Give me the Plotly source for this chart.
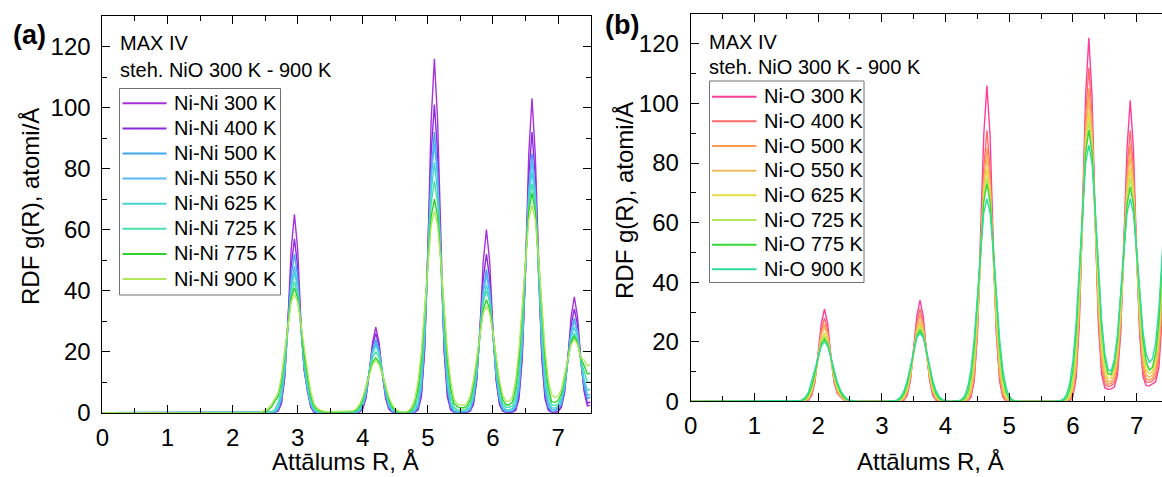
import plotly.graph_objects as go

# ---------------- data: panel (a) Ni-Ni ----------------
R_A = [0.0,
       2.40, 2.45, 2.50, 2.55, 2.60, 2.65, 2.70, 2.75, 2.80, 2.85, 2.90, 2.95, 3.00, 3.05, 3.10, 3.15,
       3.20, 3.25, 3.30, 3.35, 3.40, 3.45,
       3.75, 3.80, 3.85, 3.90, 3.95, 4.00, 4.05, 4.10, 4.15, 4.20, 4.25, 4.30, 4.35, 4.40, 4.45, 4.50,
       4.55, 4.60, 4.65, 4.70, 4.75, 4.80, 4.85, 4.90, 4.95, 5.00, 5.05, 5.10, 5.15, 5.20, 5.25, 5.30,
       5.35, 5.40, 5.45, 5.50, 5.55, 5.60, 5.65, 5.70, 5.75, 5.80, 5.85, 5.90, 5.95, 6.00, 6.05, 6.10,
       6.15, 6.20, 6.25, 6.30, 6.35, 6.40, 6.45, 6.50, 6.55, 6.60, 6.65, 6.70, 6.75, 6.80, 6.85, 6.90,
       6.95, 7.00, 7.05, 7.10, 7.15, 7.20, 7.25, 7.30, 7.35, 7.40, 7.45, 7.50]

nini_300 = [0,
    0, 0, 0, 0, 0, 0.1, 0.5, 2.9, 11.2, 29.8, 53.5, 65, 53.5, 29.8, 14.0, 8.0, 2.0, 0.1, 0, 0, 0, 0,
    0, 0, 0, 0, 0.2, 1.2, 4.8, 12.8, 23.0, 28, 23.0, 12.8, 4.8, 1.2, 0.2, 0, 0, 0, 0, 0, 0,
    0.1, 0.9, 5.1, 20.0, 53.1, 95.5, 116, 95.5, 53.1, 20.0, 5.1, 0.9, 0.1, 0, 0, 0,
    0.05, 0.5, 2.6, 10.3, 27.5, 49.4, 60, 49.4, 27.5, 10.3, 2.6, 0.5, 0.1, 0,
    0.1, 0.8, 4.5, 17.7, 47.2, 84.8, 103, 84.8, 47.2, 17.7, 4.5, 0.8, 0.1, 0,
    0.3, 1.7, 6.5, 17.4, 31.3, 38, 31.3, 17.4, 7.0, 2.2, 2.5]
nini_400 = [0,
    0, 0, 0, 0, 0, 0.1, 0.8, 3.6, 12.0, 28.5, 47.9, 57, 47.9, 28.5, 14.0, 7.0, 2.0, 0.1, 0, 0, 0, 0,
    0, 0, 0, 0.1, 0.3, 1.6, 5.5, 13.0, 21.9, 26, 21.9, 13.0, 5.5, 1.6, 0.3, 0.1, 0, 0, 0, 0, 0,
    0.2, 1.3, 6.4, 21.3, 50.5, 84.9, 101, 84.9, 50.5, 21.3, 6.4, 1.3, 0.2, 0, 0, 0,
    0.1, 0.7, 3.3, 11.0, 26.0, 43.7, 52, 43.7, 26.0, 11.0, 3.3, 0.7, 0.1, 0,
    0.2, 1.2, 5.8, 19.4, 46.0, 77.4, 92, 77.4, 46.0, 19.4, 5.8, 1.2, 0.2,
    0.1, 0.5, 2.1, 7.2, 17.0, 28.6, 34, 28.6, 17.0, 8.0, 3.1, 3.5]
nini_500 = [0,
    0, 0, 0, 0, 0, 0.2, 1.1, 4.4, 12.9, 28.0, 44.6, 52, 44.6, 28.0, 14.5, 7.5, 2.5, 0.5, 0, 0, 0, 0,
    0, 0, 0, 0.1, 0.5, 2.0, 6.0, 12.9, 20.6, 24, 20.6, 12.9, 6.0, 2.0, 0.5, 0.1, 0, 0, 0, 0, 0,
    0.4, 1.9, 7.8, 22.9, 49.6, 78.8, 92, 78.8, 49.6, 22.9, 7.8, 1.9, 0.4, 0.1, 0.2, 0.2,
    0.3, 1.0, 4.0, 11.7, 25.3, 40.3, 47, 40.3, 25.3, 11.7, 4.0, 1.0, 0.3, 0.4,
    0.5, 1.8, 7.2, 21.2, 45.8, 72.8, 85, 72.8, 45.8, 21.2, 7.2, 1.8, 0.5,
    0.6, 1.2, 2.6, 7.7, 16.7, 26.6, 31, 26.6, 16.7, 8.9, 4.6, 5.2]
nini_550 = [0,
    0, 0, 0, 0, 0.1, 0.3, 1.5, 5.2, 13.8, 27.6, 41.8, 48, 41.8, 27.6, 15.0, 8.0, 3.0, 0.7, 0.1, 0, 0, 0,
    0, 0, 0, 0.2, 0.7, 2.5, 6.6, 13.2, 20.0, 23, 20.0, 13.2, 6.6, 2.5, 0.7, 0.2, 0, 0, 0, 0, 0.1,
    0.6, 2.7, 9.6, 25.3, 50.6, 76.6, 88, 76.6, 50.6, 25.3, 9.6, 2.7, 0.6, 0.2, 0.3, 0.4,
    0.5, 1.4, 4.9, 12.9, 25.9, 39.2, 45, 39.2, 25.9, 12.9, 4.9, 1.5, 0.6, 0.6,
    0.9, 2.6, 9.0, 23.8, 47.7, 72.3, 83, 72.3, 47.7, 23.8, 9.0, 2.8, 1.0,
    1.0, 1.6, 3.6, 8.6, 17.3, 26.1, 30, 26.1, 17.3, 10.1, 5.8, 5.9]
nini_625 = [0,
    0, 0, 0, 0, 0.1, 0.5, 2.0, 6.2, 15.0, 27.9, 40.6, 46, 40.6, 27.9, 16.0, 9.0, 3.5, 1.0, 0.2, 0, 0, 0,
    0, 0, 0.05, 0.2, 1.0, 3.0, 7.2, 13.4, 19.4, 22, 19.4, 13.4, 7.2, 3.0, 1.0, 0.2, 0.05, 0, 0, 0, 0.2,
    0.9, 3.6, 11.1, 26.7, 49.8, 72.3, 82, 72.3, 49.8, 26.7, 11.1, 3.6, 1.0, 0.5, 0.6, 0.7,
    0.9, 1.9, 5.7, 13.7, 25.5, 37.0, 42, 37.0, 25.5, 13.7, 5.7, 2.0, 1.0, 1.0,
    1.4, 3.6, 10.7, 25.7, 48.0, 69.7, 79, 69.7, 48.0, 25.7, 10.7, 3.7, 1.6,
    1.5, 2.2, 4.3, 9.1, 17.0, 24.7, 28, 24.7, 17.0, 11.1, 7.3, 7.7]
nini_725 = [0,
    0, 0, 0.1, 0.1, 0.3, 1.0, 3.3, 8.2, 17.0, 28.4, 38.8, 43, 38.8, 28.4, 17.0, 10.0, 4.5, 1.5, 0.5, 0.2, 0, 0,
    0, 0.03, 0.1, 0.5, 1.5, 3.8, 7.9, 13.2, 18.0, 20, 18.0, 13.2, 7.9, 3.8, 1.5, 0.5, 0.13, 0.05, 0, 0.1, 0.5,
    1.8, 5.7, 14.5, 30.0, 50.2, 68.6, 76, 68.6, 50.2, 30.0, 14.5, 5.7, 1.8, 1.0, 0.8, 0.8,
    1.4, 3.0, 7.6, 15.8, 26.4, 36.1, 40, 36.1, 26.4, 15.8, 7.6, 3.0, 1.8, 1.8,
    2.2, 5.7, 14.3, 29.6, 49.6, 67.7, 75, 67.7, 49.6, 29.6, 14.3, 5.7, 2.6,
    2.4, 2.8, 5.0, 10.3, 17.2, 23.5, 26, 23.5, 17.2, 13.3, 10.0, 10.0]
nini_775 = [0,
    0, 0, 0.3, 0.8, 2.0, 4.0, 5.5, 10.2, 18.8, 29.0, 37.6, 41, 37.6, 29.0, 18.8, 12.0, 5.5, 2.2, 1.0, 0.5, 0.3, 0.1,
    0.2, 0.3, 0.5, 0.8, 2.1, 4.5, 8.2, 12.7, 16.5, 18, 16.5, 12.7, 8.2, 4.5, 2.1, 0.8, 0.26, 0.1, 0.1, 0.3, 1.0,
    3.1, 8.0, 17.4, 32.1, 49.5, 64.2, 70, 64.2, 49.5, 32.1, 17.4, 8.0, 3.1, 2.0, 1.6, 1.6,
    2.2, 4.2, 9.2, 16.9, 26.2, 33.9, 37, 33.9, 26.2, 16.9, 9.2, 4.3, 2.6, 2.6,
    3.6, 8.2, 17.9, 33.0, 50.9, 66.0, 72, 66.0, 50.9, 33.0, 17.9, 8.3, 3.6,
    3.4, 4.0, 6.2, 11.5, 17.7, 22.9, 25, 22.9, 17.7, 15.5, 12.7, 12.9]
nini_900 = [0,
    0, 0.3, 0.8, 1.5, 2.8, 4.5, 6.5, 11.9, 20.0, 29.0, 36.2, 39, 36.2, 29.0, 21.0, 14.0, 7.0, 3.0, 1.5, 0.8, 0.5, 0.3,
    0.5, 0.5, 0.6, 1.2, 2.7, 5.2, 8.7, 12.6, 15.8, 17, 15.8, 12.6, 8.7, 5.2, 2.7, 1.2, 0.5, 0.2, 0.2, 0.6, 1.8,
    4.6, 10.4, 20.2, 33.9, 49.1, 61.3, 66, 61.3, 49.1, 33.9, 20.2, 10.4, 4.6, 2.8, 2.5, 2.5,
    3.0, 5.5, 10.7, 18.0, 26.0, 32.5, 35, 32.5, 26.0, 18.0, 10.7, 5.7, 3.8, 3.8,
    5.2, 10.8, 20.8, 35.0, 50.6, 63.2, 68, 63.2, 50.6, 35.0, 20.9, 10.9, 6.0,
    5.0, 5.5, 7.5, 12.3, 17.9, 22.3, 24, 22.3, 17.9, 17.3, 15.3, 15.8]

# ---------------- data: panel (b) Ni-O ----------------
R_B = [0.0,
       1.60, 1.65, 1.70, 1.75, 1.80, 1.85, 1.90, 1.95, 2.00, 2.05, 2.10, 2.15, 2.20, 2.25, 2.30, 2.35,
       2.40, 2.45, 2.50, 2.55, 2.60,
       3.05, 3.10, 3.15, 3.20, 3.25, 3.30, 3.35, 3.40, 3.45, 3.50, 3.55, 3.60, 3.65, 3.70, 3.75, 3.80,
       3.85, 3.90, 3.95, 4.00, 4.05, 4.10, 4.15, 4.20, 4.25, 4.30, 4.35, 4.40, 4.45, 4.50, 4.55, 4.60,
       4.65, 4.70, 4.75, 4.80, 4.85, 4.90, 4.95, 5.00, 5.05, 5.10, 5.15, 5.20,
       5.65, 5.70, 5.75, 5.80, 5.85, 5.90, 5.95, 6.00, 6.05, 6.10, 6.15, 6.20, 6.25, 6.30, 6.35, 6.40,
       6.45, 6.50, 6.55, 6.60, 6.65, 6.70, 6.75, 6.80, 6.85, 6.90, 6.95, 7.00, 7.05, 7.10, 7.15, 7.20,
       7.25, 7.30, 7.35, 7.40, 7.45]

nio_300 = [0,
    0, 0, 0, 0, 0.1, 0.4, 2.0, 6.5, 15.5, 26.1, 31, 26.1, 15.5, 6.5, 2.8, 1.5, 0.6, 0, 0, 0, 0,
    0, 0, 0, 0, 0, 0.1, 0.45, 2.1, 7.2, 17.0, 28.6, 34, 28.6, 17.0, 7.2, 2.1, 0.45, 0.1,
    0, 0, 0, 0, 0, 0, 0, 0,
    0.2, 1.4, 6.7, 22.4, 53.0, 89.1, 106, 89.1, 53.0, 22.4, 6.7, 1.4, 0.2, 0, 0, 0, 0, 0,
    0, 0, 0, 0, 0, 0, 0.2, 1.6, 7.7, 25.7, 61.0, 102.6, 122, 102.6, 61.0, 26.2, 9.2, 4.6, 4.1, 4.2,
    4.8, 8.9, 22.8, 51.0, 84.9, 101, 84.9, 50.5, 21.8, 8.4, 5.3, 5.2, 5.8, 6.6, 11.4, 27.9, 61]
nio_400 = [0,
    0, 0, 0, 0, 0.1, 0.6, 2.4, 7.0, 15.1, 24.0, 28, 24.0, 15.1, 7.0, 3.0, 1.6, 0.7, 0.2, 0, 0, 0,
    0, 0, 0, 0, 0, 0.1, 0.65, 2.6, 7.7, 16.7, 26.6, 31, 26.6, 16.7, 7.7, 2.6, 0.65, 0.1,
    0, 0, 0, 0, 0, 0, 0,
    0.05, 0.35, 1.9, 7.7, 22.7, 49.0, 78.0, 91, 78.0, 49.0, 22.7, 7.7, 1.9, 0.35, 0.05, 0, 0, 0, 0,
    0, 0, 0, 0, 0, 0.1, 0.4, 2.4, 9.5, 27.9, 60.4, 96.0, 112, 96.0, 60.4, 28.5, 11.3, 5.9, 5.0, 5.2,
    6.1, 10.7, 24.5, 49.6, 78.0, 91, 78.0, 49.0, 23.3, 10.1, 6.5, 6.4, 6.9, 8.3, 14.2, 31.0, 61.7]
nio_500 = [0,
    0, 0, 0, 0.1, 0.2, 0.8, 2.8, 7.5, 15.0, 22.6, 26, 22.6, 15.0, 7.5, 3.4, 1.8, 0.8, 0.2, 0, 0, 0,
    0, 0, 0, 0, 0.03, 0.2, 0.9, 3.2, 8.3, 16.7, 25.3, 29, 25.3, 16.7, 8.3, 3.2, 0.9, 0.2, 0.03,
    0, 0, 0, 0, 0, 0,
    0.09, 0.6, 2.6, 9.3, 24.4, 48.9, 74.0, 85, 74.0, 48.9, 24.4, 9.3, 2.6, 0.6, 0.09, 0, 0, 0, 0,
    0, 0, 0, 0, 0, 0.1, 0.7, 3.3, 11.4, 30.1, 60.4, 91.5, 105, 91.5, 60.4, 30.8, 13.6, 7.3, 5.8, 6.0,
    7.3, 12.8, 26.7, 50.2, 74.9, 86, 74.9, 49.5, 25.4, 12.2, 7.7, 7.1, 7.8, 9.8, 16.7, 34.1, 63.1]
nio_550 = [0,
    0, 0, 0, 0.1, 0.3, 1.1, 3.4, 8.1, 15.2, 22.1, 25, 22.1, 15.2, 8.1, 4.0, 2.0, 0.9, 0.3, 0.05, 0, 0,
    0, 0, 0, 0, 0.06, 0.3, 1.2, 3.6, 8.8, 16.4, 23.8, 27, 23.8, 16.4, 8.8, 3.6, 1.2, 0.3, 0.06,
    0, 0, 0, 0, 0, 0,
    0.2, 0.9, 3.6, 11.1, 26.7, 49.8, 72.3, 82, 72.3, 49.8, 26.7, 11.1, 3.6, 0.9, 0.2, 0, 0, 0, 0,
    0, 0, 0, 0, 0.03, 0.2, 1.1, 4.4, 13.6, 32.8, 61.3, 89.1, 101, 89.1, 61.3, 33.6, 16.0, 8.8, 6.7, 6.7,
    8.6, 14.9, 28.9, 50.6, 72.3, 82, 72.3, 49.8, 27.5, 14.1, 9.0, 8.1, 8.9, 11.5, 19.6, 37.6, 64.9]
nio_625 = [0,
    0, 0, 0.1, 0.2, 0.4, 1.4, 3.7, 8.3, 14.6, 20.5, 23, 20.5, 14.6, 8.3, 4.3, 2.2, 1.0, 0.4, 0.1, 0, 0,
    0, 0, 0, 0.02, 0.1, 0.44, 1.5, 4.2, 9.4, 16.5, 23.2, 26, 23.2, 16.5, 9.4, 4.2, 1.5, 0.44, 0.1, 0.02,
    0, 0, 0, 0,
    0.05, 0.3, 1.3, 4.6, 12.7, 28.1, 49.5, 69.7, 78, 69.7, 49.5, 28.1, 12.7, 4.6, 1.3, 0.3, 0.05, 0, 0, 0,
    0, 0, 0, 0, 0.07, 0.4, 1.6, 5.7, 15.8, 34.9, 61.6, 86.6, 97, 86.6, 61.6, 35.8, 18.4, 10.5, 7.8, 7.8,
    10.1, 16.7, 30.5, 50.4, 69.7, 78, 69.7, 49.5, 29.0, 16.0, 10.6, 9.3, 10.2, 13.4, 22.3, 40.1, 65.5]
nio_725 = [0,
    0, 0, 0.03, 0.14, 0.5, 1.7, 4.2, 8.7, 14.5, 19.8, 22, 19.8, 14.5, 8.7, 4.8, 2.5, 1.1, 0.5, 0.2, 0.05, 0,
    0, 0, 0, 0.03, 0.16, 0.6, 1.9, 4.8, 9.9, 16.5, 22.6, 25, 22.6, 16.5, 9.9, 4.8, 1.9, 0.6, 0.16, 0.03,
    0, 0, 0,
    0.02, 0.1, 0.47, 1.8, 5.7, 14.3, 29.6, 49.6, 67.7, 75, 67.7, 49.6, 29.6, 14.3, 5.7, 1.8, 0.47, 0.1, 0.02, 0, 0,
    0, 0, 0, 0, 0.12, 0.6, 2.3, 7.1, 18.0, 37.1, 62.1, 84.8, 94, 84.8, 62.1, 38.1, 20.8, 12.2, 9.0, 8.9,
    11.6, 18.6, 32.2, 50.6, 67.7, 75, 67.7, 49.6, 30.6, 17.9, 12.2, 10.6, 11.5, 15.3, 24.4, 41.5, 64.4]
nio_775 = [0,
    0, 0.1, 0.1, 0.3, 0.9, 2.4, 5.2, 9.6, 14.8, 19.3, 21, 19.3, 14.8, 9.6, 5.8, 3.2, 1.5, 0.7, 0.3, 0.1, 0,
    0, 0, 0.02, 0.09, 0.34, 1.06, 2.7, 6.0, 11.0, 17.0, 22.0, 24, 22.0, 17.0, 11.0, 6.0, 2.7, 1.06, 0.34, 0.09, 0.02,
    0,
    0.02, 0.07, 0.28, 1.04, 3.2, 8.3, 18.2, 33.4, 51.6, 66.9, 73, 66.9, 51.6, 33.4, 18.2, 8.3, 3.2, 1.04, 0.28, 0.07, 0.02, 0,
    0, 0, 0, 0.08, 0.35, 1.3, 4.0, 10.4, 22.7, 41.7, 64.3, 83.4, 91, 83.4, 64.3, 42.8, 25.3, 14.7, 9.5, 9.0,
    12.6, 21.0, 35.0, 51.9, 66.0, 72, 66.0, 50.9, 34.0, 21.0, 13.5, 10.5, 11.4, 16.3, 26.9, 44.3, 65.2]
nio_900 = [0,
    0.05, 0.1, 0.2, 0.53, 1.4, 3.1, 7.0, 10.3, 14.9, 18.6, 20, 18.6, 14.9, 10.3, 6.6, 3.8, 2.0, 0.9, 0.4, 0.2, 0.05,
    0, 0.02, 0.06, 0.2, 0.6, 1.6, 3.6, 7.0, 11.8, 17.1, 21.4, 23, 21.4, 17.1, 11.8, 7.0, 3.6, 1.6, 0.6, 0.2, 0.06, 0.02,
    0.05, 0.17, 0.6, 1.8, 4.8, 10.7, 20.8, 35.0, 50.6, 63.2, 68, 63.2, 50.6, 35.0, 20.8, 10.7, 4.8, 1.8, 0.6, 0.17, 0.04, 0,
    0, 0, 0.05, 0.22, 0.76, 2.3, 6.0, 13.5, 26.3, 44.2, 64.0, 79.9, 86, 79.9, 64.0, 44.2, 27.5, 16.1, 10.8, 10.1,
    14.0, 22.5, 35.8, 50.6, 63.2, 68, 63.2, 50.6, 35.8, 23.5, 16.0, 13.1, 14.3, 19.9, 31.2, 47.7, 66.2]

TEMPS = [300, 400, 500, 550, 625, 725, 775, 900]
NINI_SERIES = [nini_300, nini_400, nini_500, nini_550, nini_625, nini_725, nini_775, nini_900]
NIO_SERIES = [nio_300, nio_400, nio_500, nio_550, nio_625, nio_725, nio_775, nio_900]
NINI_LABELS = [f"Ni-Ni {t} K" for t in TEMPS]
NIO_LABELS = [f"Ni-O {t} K" for t in TEMPS]
NINI_COLORS = ["#A630DC", "#8A2BE2", "#3EA6F2", "#5CB8F5", "#45D4D4", "#48E0A8", "#2ED22E", "#B4E85C"]
NIO_COLORS = ["#FF3D9A", "#FF6B6B", "#FF9A55", "#F2BC5C", "#E6DA45", "#B6E85E", "#38D838", "#2EDE9A"]

for s in NINI_SERIES:
    assert len(s) == len(R_A), len(s)
for s in NIO_SERIES:
    assert len(s) == len(R_B), len(s)

FONT = "Liberation Sans, Arial, sans-serif"
W, H = 1162, 477

def px(x):
    return x / W

def py(y):
    return (H - y) / H

fig = go.Figure()
for lab, ys, col in zip(NINI_LABELS, NINI_SERIES, NINI_COLORS):
    fig.add_trace(go.Scatter(x=R_A, y=ys, mode="lines", name=lab,
                             line=dict(color=col, width=1.4),
                             xaxis="x", yaxis="y", showlegend=False))
for lab, ys, col in zip(NIO_LABELS, NIO_SERIES, NIO_COLORS):
    fig.add_trace(go.Scatter(x=R_B, y=ys, mode="lines", name=lab,
                             line=dict(color=col, width=1.4),
                             xaxis="x2", yaxis="y2", showlegend=False))

def ax(**kw):
    base = dict(showline=True, linecolor="black", linewidth=1, ticks="inside", ticklen=8,
                tickwidth=1, tickcolor="black", showgrid=False, zeroline=False,
                automargin=False,
                tickfont=dict(family=FONT, size=24, color="black"))
    base.update(kw)
    return base

minor_x = dict(ticks="inside", ticklen=5, tickwidth=1, tickcolor="black", dtick=0.5, showgrid=False)
minor_y = dict(ticks="inside", ticklen=5, tickwidth=1, tickcolor="black", dtick=10, showgrid=False)

def txt(x, y, s, size=20, xanchor="left", angle=0, yanchor="middle"):
    return dict(x=x, y=y, xref="paper", yref="paper", text=s, showarrow=False,
                xanchor=xanchor, yanchor=yanchor, textangle=angle,
                font=dict(family=FONT, size=size, color="black"))

annotations = [
    txt(px(29), py(35), "<b>(a)</b>", size=27, xanchor="center"),
    txt(px(622), py(25), "<b>(b)</b>", size=27, xanchor="center"),
    txt(px(118), py(43), "MAX IV"),
    txt(px(118), py(70), "steh. NiO 300 K - 900 K"),
    txt(px(707), py(41.5), "MAX IV"),
    txt(px(707), py(67), "steh. NiO 300 K - 900 K"),
    txt(px(30), py(207), "RDF g(R), atomi/Å", size=24, xanchor="center", angle=-90),
    txt(px(624), py(201), "RDF g(R), atomi/Å", size=24, xanchor="center", angle=-90),
    txt(px(345.5), 0.0, "Attālums R, Å", size=24, xanchor="center", yanchor="bottom"),
    txt(px(930), py(461), "Attālums R, Å", size=24, xanchor="center"),
]

shapes = []

def add_legend(labels, colors, box, first_y, step, line_x0, line_x1, text_x):
    x0, y0, x1, y1 = box
    shapes.append(dict(type="rect", xref="paper", yref="paper",
                       x0=px(x0), x1=px(x1), y0=py(y1), y1=py(y0),
                       line=dict(color="#707070", width=1), fillcolor="white", layer="above"))
    for i, (lab, col) in enumerate(zip(labels, colors)):
        yc = first_y + i * step
        shapes.append(dict(type="line", xref="paper", yref="paper",
                           x0=px(line_x0), x1=px(line_x1), y0=py(yc), y1=py(yc),
                           line=dict(color=col, width=2), layer="above"))
        annotations.append(txt(px(text_x), py(yc - 0.5), lab, size=20))

add_legend(NINI_LABELS, NINI_COLORS, (119.5, 88.5, 280.5, 295), 103.3, 25.1, 122.5, 166.5, 171.5)
add_legend(NIO_LABELS, NIO_COLORS, (709.5, 81, 864, 282.5), 96.7, 24.66, 712, 756.5, 761.5)

fig.update_layout(
    template="none",
    width=W, height=H,
    margin=dict(l=0, r=0, t=0, b=0, autoexpand=False),
    paper_bgcolor="white", plot_bgcolor="white",
    showlegend=False,
    xaxis=ax(domain=[px(102.4), px(590.6)], range=[0, 7.5], tick0=0, dtick=1, minor=minor_x,
             mirror="ticks", anchor="y", ticklabelstandoff=3),
    yaxis=ax(domain=[py(412.7), py(16)], range=[0, 130], tick0=0, dtick=20, minor=minor_y,
             mirror="ticks", anchor="x", ticklabelstandoff=6),
    xaxis2=ax(domain=[px(690.7), 1.0], range=[0, (W - 690.7) / 63.7], tick0=0, dtick=1, minor=minor_x,
              mirror="ticks", anchor="y2", ticklabelstandoff=3),
    yaxis2=ax(domain=[py(401.4), py(14)], range=[0, 130], tick0=0, dtick=20, minor=minor_y,
              mirror=False, anchor="x2", ticklabelstandoff=6),
    annotations=annotations,
    shapes=shapes,
)

fig.write_html(
    "out.html",
    config={"displayModeBar": False},
    post_script="document.body.style.margin='0px';document.body.style.padding='0px';"
                "document.body.style.overflow='hidden';",
)
